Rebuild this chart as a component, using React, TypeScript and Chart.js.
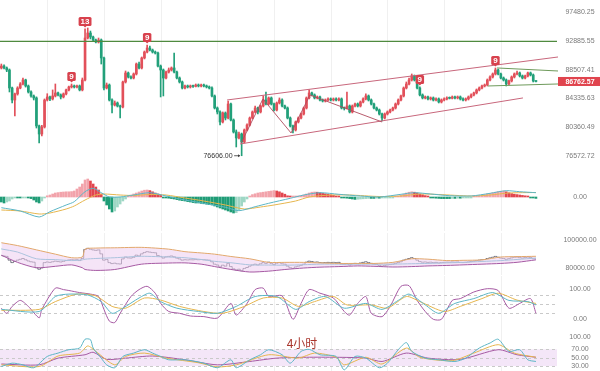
import React, { useEffect, useRef } from 'react';
import { Chart, registerables } from 'chart.js';

Chart.register(...registerables);

// ---------------- data ----------------
const PRICE_TICKS = [97480.25, 92885.55, 88507.41, 84335.63, 80360.49, 76572.72];
const LAST_PRICE = 86762.57;
const FIRST_OPEN = 88750;

const CLOSE = [
  89040, 88750, 88450, 85820, 84110, 84970, 85820, 86400, 86980, 86110,
  85250, 84680, 84400, 80530, 79450, 80390, 84110, 84540, 84260, 84680,
  85110, 84820, 84540, 84970, 85540, 85970, 86110, 85970, 86110, 85540,
  86980, 93320, 94110, 93480, 93010, 92700, 93010, 90250, 85820, 86250,
  84110, 83410, 83690, 83270, 83130, 86690, 88010, 87420, 87270, 87860,
  89340, 88750, 90250, 91160, 91770, 91460, 91160, 91000, 89040, 88450,
  87270, 88150, 88450, 88750, 88150, 87270, 86690, 85820, 86110, 85970,
  86110, 86050, 86250, 86110, 86250, 86110, 85970, 85820, 84680, 82990,
  82440, 81070, 82300, 81610, 83550, 81340, 79720, 78920, 79450, 78390,
  79990, 80660, 81610, 82440, 82990, 82440, 83270, 84110, 83550, 84400,
  83550, 82710, 83690, 84110, 83270, 82990, 81610, 80530, 79990, 81070,
  81610, 82160, 82990, 84400, 85110, 84820, 84400, 84540, 84110, 83970,
  84110, 84260, 84110, 84260, 84110, 84260, 82990, 82950, 83270, 82440,
  83270, 83550, 83270, 83830, 84260, 84680, 84110, 83550, 82990, 82710,
  82160, 81610, 82160, 82440, 82710, 82990, 83550, 84110, 84680, 85820,
  86400, 86980, 87570, 86980, 85820, 84820, 84400, 84540, 84260, 84400,
  84110, 84260, 83830, 84110, 84260, 84400, 84350, 84540, 84400, 84540,
  84260, 84110, 84260, 84540, 84820, 85110, 85540, 85820, 86110, 86250,
  86980, 87420, 87860, 88450, 87860, 87270, 86980, 86400, 86840, 87420,
  87860, 88010, 87570, 87270, 87570, 88010, 87710, 86840, 86762.57,
];

const HIGH = [
  89340, 89200, 88900, 88600, 85950, 85100, 86000, 86600, 87270, 87100,
  86250, 85400, 84820, 84550, 80660, 80600, 84260, 85000, 84680, 85540,
  86400, 85250, 84970, 85110, 85680, 86110, 86400, 86250, 86250, 86250,
  87270, 94750, 94900, 94420, 93640, 93170, 93320, 93170, 90400, 86540,
  86400, 84260, 83970, 83830, 83410, 86830, 88300, 88150, 87570, 88010,
  89490, 89640, 90400, 91310, 92230, 92080, 91610, 91310, 91160, 89190,
  88600, 88300, 88750, 88900, 91000, 88300, 87420, 86830, 86250, 86250,
  86250, 86250, 86400, 86400, 86400, 86400, 86250, 86110, 85970, 84820,
  83130, 82580, 82440, 82440, 83970, 83690, 81480, 79990, 79720, 79580,
  80120, 80800, 81750, 82580, 83270, 83130, 83410, 84680, 85250, 84540,
  84540, 83690, 83830, 84400, 84260, 83410, 83130, 81750, 80660, 81200,
  81750, 82300, 83130, 84540, 85540, 85250, 84970, 84680, 84680, 84260,
  84260, 84400, 84400, 84400, 84400, 84400, 84400, 83130, 85250, 83410,
  83410, 83690, 83690, 83970, 84400, 84970, 84820, 84260, 83690, 83130,
  82850, 82300, 82300, 82580, 82850, 83130, 83690, 84260, 84820, 85970,
  86690, 87270, 87860, 87710, 87130, 85970, 84970, 84680, 84680, 84540,
  84540, 84400, 84400, 84260, 84400, 84540, 84540, 84680, 84680, 84680,
  84680, 84400, 84400, 84680, 84970, 85250, 85680, 85970, 86250, 86400,
  87130, 87570, 88010, 88750, 88600, 88010, 87420, 87130, 86980, 87570,
  88010, 88300, 88150, 87710, 87710, 88150, 88150, 87860, 86840,
];

const LOW = [
  88600, 88600, 88200, 85250, 83700, 81900, 84800, 85700, 86250, 85950,
  85100, 84500, 84110, 80250, 78260, 79200, 80250, 83970, 84000, 84110,
  84540, 84680, 84260, 84400, 84820, 85400, 85820, 85820, 85820, 85400,
  85400, 86830, 93170, 93170, 92850, 92540, 92540, 89340, 85540, 85680,
  83970, 82300, 83270, 83130, 81610, 82990, 86540, 87270, 87130, 87130,
  87710, 88600, 88600, 90100, 91000, 91310, 91000, 90850, 88900, 84540,
  84680, 87130, 88000, 88300, 88000, 87130, 86540, 85680, 85680, 85820,
  85820, 85900, 85970, 85970, 85970, 85970, 85820, 85680, 84540, 82850,
  82160, 80660, 80930, 81340, 81480, 81200, 79580, 77740, 78790, 76606,
  78260, 79850, 80530, 81480, 82300, 82160, 82300, 83130, 83410, 83410,
  83410, 82580, 82580, 83550, 83130, 82850, 81480, 80390, 79580, 79850,
  80930, 81480, 82020, 82850, 84260, 84680, 84260, 84260, 83970, 83830,
  83830, 83970, 83970, 83970, 83970, 83970, 82850, 82710, 82850, 82300,
  82300, 83130, 83130, 83130, 83690, 84110, 83970, 83410, 82850, 82580,
  82020, 81200, 81480, 82020, 82300, 82580, 82850, 83410, 83970, 84540,
  85680, 86250, 86830, 86830, 85680, 84680, 84260, 84260, 84110, 84110,
  83970, 83970, 83690, 83690, 83970, 84110, 84260, 84260, 84260, 84260,
  84110, 83970, 83970, 84110, 84400, 84680, 84970, 85400, 85680, 85970,
  86110, 86830, 87270, 87710, 87710, 87130, 86830, 86110, 86250, 86690,
  87270, 87710, 87420, 87130, 87130, 87420, 87570, 86690, 86690,
];

// TD sequential markers (candle index, text)
const MARKER_IDX = [26, 31, 54, 155, 183];
const MARKER_TEXT = ['9', '13', '9', '9', '9'];

// drawn trend lines (candle index, price)
const RESISTANCE = 92800;
const CHANNEL_UP_X = [83.6, 206.2];
const CHANNEL_UP_Y = [84110, 90400];
const CHANNEL_LOW_X = [88.4, 193.2];
const CHANNEL_LOW_Y = [78130, 84400];
const ZIGZAG_X = [88.8, 96.9, 107.3, 114.3, 141];
const ZIGZAG_Y = [78260, 84260, 79585, 84820, 81070];
const PENNANT_UP_X = [183.6, 206.2];
const PENNANT_UP_Y = [88750, 88300];
const PENNANT_LOW_X = [180.2, 206.2];
const PENNANT_LOW_Y = [86110, 86400];

// MACD
const MACD_HIST = [
  -250, -300, -250, -200, -100, -50, -50, -50, -40, -30,
  -40, -80, -150, -250, -300, -200, -50, 60, 100, 150,
  200, 220, 240, 250, 260, 260, 270, 300, 400, 500,
  650, 850, 900, 800, 650, 500, 350, 150, -200, -400,
  -600, -750, -700, -500, -350, -200, -100, 50, 100, 150,
  200, 250, 300, 340, 350, 320, 260, 200, 150, 80,
  -30, -40, -60, -80, -100, -130, -160, -180, -200, -230,
  -250, -280, -300, -300, -320, -340, -360, -380, -400, -450,
  -500, -550, -600, -650, -700, -750, -800, -780, -650, -450,
  -250, -100, 50, 120, 160, 200, 220, 240, 260, 280,
  300, 320, 300, 260, 200, 140, 60, 40, 40, 40,
  50, 60, 100, 150, 200, 240, 250, 240, 210, 180,
  160, 140, 110, 80, 50, 20, -30, -50, -60, -80,
  -100, -120, -110, -100, -90, -80, -70, -70, -70, -60,
  -60, -50, -40, -30, -20, -10, 20, 50, 90, 140,
  200, 240, 260, 240, 200, 150, 110, 70, 40, -20,
  -40, -60, -70, -80, -80, -80, -80, -70, -70, -60,
  -60, -50, -40, -30, -10, 10, 30, 60, 90, 120,
  150, 180, 210, 240, 270, 290, 300, 260, 210, 170,
  140, 120, 100, 80, 60, 40, -20, -50, -70,
];
const DIF_X = [0, 7, 14, 18, 24, 27, 31, 34, 37, 40, 44, 49, 55, 61, 68, 75, 83, 88, 94, 99, 107, 112, 118, 125, 133, 140, 148, 153, 159, 166, 174, 181, 187, 192, 198];
const DIF_V = [-535, -700, -1000, -735, -400, -235, 265, 435, 215, 0, 0, 100, 215, 50, -150, -315, -515, -685, -485, -315, -65, 100, 215, 135, 50, 0, 135, 215, 150, 65, 50, 185, 315, 265, 215];
const DEA_X = [0, 7, 14, 18, 24, 27, 31, 35, 38, 44, 49, 55, 61, 68, 75, 83, 90, 96, 101, 109, 114, 122, 129, 140, 148, 155, 162, 174, 181, 188, 198];
const DEA_V = [-650, -700, -850, -800, -600, -450, -150, 100, 150, 100, 75, 125, 100, -50, -200, -400, -600, -500, -400, -200, 0, 100, 100, 25, 50, 150, 125, 50, 100, 200, 225];

// BOLL
const BOLL_X = [0, 6, 13, 20, 26, 30, 31, 35, 42, 52, 62, 68, 74, 79, 85, 92, 99, 105, 112, 118, 125, 132, 138, 145, 152, 158, 165, 171, 178, 185, 191, 198];
const BOLL_UP = [98060, 96060, 93050, 90040, 87530, 88030, 93550, 94300, 94500, 94800, 93550, 91790, 90900, 90040, 88400, 86780, 84270, 84270, 84270, 83900, 83520, 83520, 83520, 84270, 86780, 86500, 85520, 85700, 86020, 88030, 88300, 88530];
const BOLL_MID = [93700, 91500, 86780, 86200, 85520, 86000, 86500, 87000, 87530, 88530, 88000, 87530, 86300, 85000, 84000, 82510, 82380, 82260, 82600, 83020, 83020, 83020, 83020, 83020, 83300, 83520, 83900, 84270, 84900, 85520, 86300, 87280];
const BOLL_LOW = [89280, 84270, 80510, 81500, 82510, 80500, 79250, 78600, 79250, 83020, 83800, 83900, 83020, 81300, 79300, 77500, 78100, 79250, 80300, 80900, 81300, 81760, 81500, 81010, 81300, 81760, 82100, 82510, 83000, 83520, 84300, 86030];
const BOLL_TICKS = [100000, 80000];

// KDJ
const K_X = [0, 14, 20, 25, 32, 37, 41, 45, 51, 55, 59, 65, 73, 80, 87, 94, 102, 109, 114, 120, 127, 135, 141, 147, 151, 157, 162, 168, 175, 182, 188, 195, 198];
const K_V = [33, 26, 76, 84, 81, 59, 20, 37, 71, 87, 59, 37, 26, 20, 43, 76, 76, 33, 59, 76, 37, 53, 33, 63, 84, 48, 20, 53, 69, 89, 63, 59, 48];
const D_X = [0, 14, 20, 28, 35, 41, 46, 53, 59, 66, 75, 82, 90, 97, 104, 110, 116, 123, 128, 137, 143, 150, 155, 164, 170, 178, 184, 191, 198];
const D_V = [30, 33, 59, 84, 78, 43, 37, 71, 64, 43, 26, 20, 43, 71, 71, 43, 59, 76, 48, 48, 37, 76, 59, 26, 43, 69, 87, 64, 53];
const J_X = [0, 2, 4, 7, 10, 14, 15, 20, 23, 25, 29, 33, 36, 38, 40, 42, 44, 48, 51, 54, 57, 59, 62, 66, 70, 75, 80, 85, 87, 91, 94, 97, 99, 104, 108, 111, 114, 118, 123, 127, 129, 132, 135, 137, 141, 144, 148, 151, 154, 157, 160, 163, 167, 170, 175, 180, 184, 188, 192, 196, 198];
const J_V = [37, 20, 43, 63, 43, 5, 33, 104, 99, 96, 89, 84, 76, 33, -6, -11, 20, 76, 99, 110, 87, 53, 26, 20, 11, 9, 4, 53, 14, 53, 99, 104, 76, 78, 0, 53, 99, 87, 71, 26, 14, 53, 76, 20, 9, 43, 110, 112, 63, 26, 0, 0, 63, 69, 91, 102, 96, 37, 53, 69, 20];
const KDJ_LEVELS = [80, 50, 20];
const KDJ_TICKS = [100, 0];

// RSI
const R1_X = [0, 4, 8, 12, 17, 21, 25, 29, 31, 33, 34, 37, 39, 42, 45, 49, 53, 56, 59, 62, 68, 75, 80, 85, 87, 92, 96, 99, 104, 107, 111, 114, 118, 124, 127, 131, 135, 140, 143, 147, 150, 152, 157, 162, 168, 172, 177, 181, 184, 188, 192, 195, 198];
const R1_V = [29, 37, 33, 26, 53, 61, 69, 73, 94, 93, 73, 49, 33, 26, 53, 61, 69, 61, 53, 45, 45, 37, 26, 45, 26, 45, 57, 69, 57, 37, 65, 70, 57, 53, 21, 53, 49, 26, 37, 69, 86, 65, 49, 45, 41, 49, 73, 85, 94, 65, 69, 45, 41];
const R2_X = [0, 14, 21, 29, 32, 35, 42, 46, 53, 61, 73, 80, 87, 99, 110, 116, 124, 127, 135, 141, 150, 155, 167, 175, 184, 190, 198];
const R2_V = [33, 29, 54, 61, 78, 65, 33, 53, 61, 49, 38, 28, 33, 57, 49, 61, 51, 33, 51, 35, 73, 51, 43, 61, 81, 61, 51];
const R3_X = [0, 14, 21, 31, 34, 39, 46, 56, 68, 80, 92, 102, 113, 124, 135, 141, 150, 158, 170, 184, 191, 198];
const R3_V = [35, 33, 49, 57, 63, 46, 49, 54, 45, 33, 41, 49, 51, 51, 49, 41, 61, 49, 46, 69, 57, 51];
const RSI_LEVELS = [70, 50, 30];
const RSI_TICKS = [100, 70, 50, 30];
const PERIOD_LABEL = '4小时';

const GRID_IDX = [17, 38, 59, 80, 101, 122, 143, 164, 185];

// ---------------- style ----------------
const X_MIN = -0.5;
const X_MAX = 205.8;
const AXIS_W = 43;
const LABEL_X = 580;
const FONT = '"Liberation Sans", Arial, sans-serif';
const UP = '#e2505a';
const DOWN = '#22a07a';
const TEAL = '#5cb6c6';
const YELLOW = '#e6b64e';
const PURPLE = '#a65aa3';

const pts = (xs: number[], ys: number[]) => xs.map((x, i) => ({ x, y: ys[i] }));

const xAxis = () => ({ type: 'linear', min: X_MIN, max: X_MAX, display: false, offset: false, bounds: 'data' });
const yAxis = (extra: any) => ({
  position: 'right',
  afterFit: (s: any) => { s.width = AXIS_W; },
  ticks: { display: false },
  grid: { display: false },
  border: { display: false },
  bounds: 'data',
  ...extra,
});
const baseOptions = (yExtra: any) => ({
  responsive: false,
  animation: false,
  devicePixelRatio: 1,
  events: [],
  layout: { padding: 0 },
  plugins: { legend: { display: false }, tooltip: { enabled: false } },
  scales: { x: xAxis(), y: yAxis(yExtra) },
});

const line = (data: any[], color: string, extra: any = {}) => ({
  type: 'line',
  data,
  borderColor: color,
  borderWidth: 1,
  pointRadius: 0,
  tension: 0.25,
  fill: false,
  order: 0,
  ...extra,
});

const vgrid = {
  id: 'vgrid',
  beforeDatasetsDraw(chart: any) {
    const { ctx, chartArea: a, scales } = chart;
    ctx.save();
    ctx.strokeStyle = '#f0f0f0';
    ctx.lineWidth = 1;
    GRID_IDX.forEach((v) => {
      const px = Math.round(scales.x.getPixelForValue(v)) + 0.5;
      ctx.beginPath();
      ctx.moveTo(px, a.top);
      ctx.lineTo(px, a.bottom);
      ctx.stroke();
    });
    ctx.restore();
  },
};

const rightLabels = (values: number[]) => ({
  id: 'rightLabels',
  afterDraw(chart: any) {
    const { ctx, scales } = chart;
    ctx.save();
    ctx.font = `7px ${FONT}`;
    ctx.fillStyle = '#7a7a7a';
    ctx.textAlign = 'center';
    ctx.textBaseline = 'middle';
    values.forEach((v) => ctx.fillText(v.toFixed(2), LABEL_X, scales.y.getPixelForValue(v)));
    ctx.restore();
  },
});

const dashedLevels = (levels: number[], band?: [number, number], bandColor?: string) => ({
  id: 'dashedLevels',
  beforeDatasetsDraw(chart: any) {
    const { ctx, chartArea: a, scales } = chart;
    ctx.save();
    if (band) {
      const y1 = scales.y.getPixelForValue(band[0]);
      const y2 = scales.y.getPixelForValue(band[1]);
      ctx.fillStyle = bandColor;
      ctx.fillRect(a.left, y1, a.right - a.left, y2 - y1);
    }
    ctx.strokeStyle = '#c9c9c9';
    ctx.lineWidth = 1;
    ctx.setLineDash([3, 3]);
    levels.forEach((v) => {
      const py = Math.round(scales.y.getPixelForValue(v)) + 0.5;
      ctx.beginPath();
      ctx.moveTo(a.left, py);
      ctx.lineTo(a.right, py);
      ctx.stroke();
    });
    ctx.restore();
  },
});

function poly(ctx: any, xs: number[], ys: number[], xs_: any, ys_: any, color: string, w: number) {
  ctx.beginPath();
  xs.forEach((v, i) => {
    const px = xs_.getPixelForValue(v);
    const py = ys_.getPixelForValue(ys[i]);
    if (i === 0) ctx.moveTo(px, py);
    else ctx.lineTo(px, py);
  });
  ctx.strokeStyle = color;
  ctx.lineWidth = w;
  ctx.stroke();
}

const mainOverlay = {
  id: 'mainOverlay',
  afterDatasetsDraw(chart: any) {
    const { ctx, chartArea: a, scales: { x, y } } = chart;
    ctx.save();
    ctx.beginPath();
    ctx.rect(a.left, a.top, a.right - a.left + 1, a.bottom - a.top);
    ctx.clip();
    poly(ctx, [X_MIN, X_MAX], [RESISTANCE, RESISTANCE], x, y, '#4f8a3f', 1.2);
    poly(ctx, CHANNEL_UP_X, CHANNEL_UP_Y, x, y, '#c8677c', 1);
    poly(ctx, CHANNEL_LOW_X, CHANNEL_LOW_Y, x, y, '#c8677c', 1);
    poly(ctx, ZIGZAG_X, ZIGZAG_Y, x, y, '#b04a5c', 0.9);
    poly(ctx, PENNANT_UP_X, PENNANT_UP_Y, x, y, '#6e9a5b', 1);
    poly(ctx, PENNANT_LOW_X, PENNANT_LOW_Y, x, y, '#6e9a5b', 1);
    ctx.restore();

    // TD markers
    ctx.save();
    ctx.font = `bold 8px ${FONT}`;
    ctx.textAlign = 'center';
    ctx.textBaseline = 'middle';
    MARKER_IDX.forEach((idx, k) => {
      const t = MARKER_TEXT[k];
      const px = x.getPixelForValue(idx);
      const py = y.getPixelForValue(HIGH[idx]) - 3;
      const w = ctx.measureText(t).width + 4;
      const h = 9;
      ctx.fillStyle = '#d8414d';
      ctx.beginPath();
      ctx.roundRect(px - w / 2, py - h, w, h, 1.5);
      ctx.fill();
      ctx.beginPath();
      ctx.moveTo(px - 1.5, py);
      ctx.lineTo(px + 1.5, py);
      ctx.lineTo(px, py + 1.5);
      ctx.fill();
      ctx.fillStyle = '#ffffff';
      ctx.fillText(t, px, py - h / 2 + 0.5);
    });
    ctx.restore();

    // lowest low label
    let li = 0;
    LOW.forEach((v, i) => { if (v < LOW[li]) li = i; });
    const lx = x.getPixelForValue(li);
    const ly = y.getPixelForValue(LOW[li]);
    ctx.save();
    ctx.font = `7px ${FONT}`;
    ctx.fillStyle = '#333';
    ctx.strokeStyle = '#333';
    ctx.textAlign = 'right';
    ctx.textBaseline = 'middle';
    ctx.fillText(LOW[li].toFixed(2), lx - 9, ly);
    ctx.lineWidth = 0.8;
    ctx.beginPath();
    ctx.moveTo(lx - 7.5, ly);
    ctx.lineTo(lx - 2, ly);
    ctx.stroke();
    ctx.beginPath();
    ctx.moveTo(lx - 1.5, ly);
    ctx.lineTo(lx - 3.5, ly - 1.5);
    ctx.lineTo(lx - 3.5, ly + 1.5);
    ctx.fill();
    ctx.restore();
  },
  afterDraw(chart: any) {
    const { ctx, scales: { y } } = chart;
    const py = y.getPixelForValue(LAST_PRICE);
    ctx.save();
    ctx.fillStyle = '#e0444e';
    ctx.fillRect(558, py - 4.5, 42, 9);
    ctx.font = `bold 7px ${FONT}`;
    ctx.fillStyle = '#ffffff';
    ctx.textAlign = 'center';
    ctx.textBaseline = 'middle';
    ctx.fillText(LAST_PRICE.toFixed(2), LABEL_X, py + 0.3);
    ctx.restore();
  },
};

const periodLabel = {
  id: 'periodLabel',
  afterDraw(chart: any) {
    const { ctx } = chart;
    ctx.save();
    ctx.font = '12px "Noto Sans CJK SC", sans-serif';
    ctx.fillStyle = '#a9362d';
    ctx.textAlign = 'center';
    ctx.textBaseline = 'middle';
    ctx.fillText(PERIOD_LABEL, 302, 13);
    ctx.restore();
  },
};

// ---------------- chart builders ----------------
const OPEN = CLOSE.map((c, i) => (i === 0 ? FIRST_OPEN : CLOSE[i - 1]));
const CANDLE_COLORS = CLOSE.map((c, i) => (c >= OPEN[i] ? UP : DOWN));
const HIST_COLORS = MACD_HIST.map((v, i) => {
  const prev = i ? MACD_HIST[i - 1] : 0;
  if (v >= 0) return v >= prev ? '#f2a3ab' : '#e2464f';
  return v <= prev ? '#1f9c76' : '#9fd7c5';
});

const buildMain = () => ({
  type: 'bar',
  data: {
    datasets: [
      { data: CLOSE.map((_, i) => ({ x: i, y: [LOW[i], HIGH[i]] })), backgroundColor: CANDLE_COLORS, barThickness: 1, grouped: false, order: 2 },
      { data: CLOSE.map((c, i) => ({ x: i, y: [OPEN[i], c] })), backgroundColor: CANDLE_COLORS, barThickness: 2, minBarLength: 1, grouped: false, order: 1 },
    ],
  },
  options: baseOptions({ type: 'logarithmic', min: 75679, max: 99461 }),
  plugins: [vgrid, mainOverlay, rightLabels(PRICE_TICKS)],
});

const buildMacd = () => ({
  type: 'bar',
  data: {
    datasets: [
      line(pts(DIF_X, DIF_V), TEAL),
      line(pts(DEA_X, DEA_V), YELLOW),
      { data: MACD_HIST.map((v, i) => ({ x: i, y: v })), backgroundColor: HIST_COLORS, barThickness: 2, minBarLength: 1, grouped: false, order: 3 },
    ],
  },
  options: baseOptions({ type: 'linear', min: -1700, max: 1700 }),
  plugins: [vgrid, rightLabels([0])],
});

const buildBoll = () => ({
  type: 'line',
  data: {
    datasets: [
      line(pts(BOLL_X, BOLL_LOW), PURPLE),
      line(pts(BOLL_X, BOLL_UP), '#e2a86c', { fill: '-1', backgroundColor: 'rgba(236, 206, 240, 0.55)' }),
      line(pts(BOLL_X, BOLL_MID), TEAL),
      line(CLOSE.map((c, i) => ({ x: i, y: c })), '#575766', { stepped: 'middle', tension: 0, borderWidth: 0.8 }),
    ],
  },
  options: baseOptions({ type: 'linear', min: 75395, max: 104890 }),
  plugins: [vgrid, rightLabels(BOLL_TICKS)],
});

const buildKdj = () => ({
  type: 'line',
  data: {
    datasets: [
      line(pts(K_X, K_V), TEAL),
      line(pts(D_X, D_V), YELLOW),
      line(pts(J_X, J_V), PURPLE),
    ],
  },
  options: baseOptions({ type: 'linear', min: -35.67, max: 144.33 }),
  plugins: [vgrid, dashedLevels(KDJ_LEVELS), rightLabels(KDJ_TICKS)],
});

const buildRsi = () => ({
  type: 'line',
  data: {
    datasets: [
      line(pts(R1_X, R1_V), TEAL),
      line(pts(R2_X, R2_V), YELLOW),
      line(pts(R3_X, R3_V), PURPLE),
    ],
  },
  options: baseOptions({ type: 'linear', min: 18.33, max: 115.95 }),
  plugins: [vgrid, dashedLevels(RSI_LEVELS, [70, 30], '#f4e6f8'), rightLabels(RSI_TICKS), periodLabel],
});

function Panel({ top, height, build }: { top: number; height: number; build: () => any }) {
  const ref = useRef<HTMLCanvasElement | null>(null);
  useEffect(() => {
    const chart = new Chart(ref.current as HTMLCanvasElement, build());
    return () => chart.destroy();
  }, []);
  return (
    <canvas
      ref={ref}
      width={600}
      height={height}
      style={{ position: 'absolute', left: 0, top, width: 600, height, display: 'block' }}
    />
  );
}

export default function App() {
  return (
    <div style={{ position: 'fixed', left: 0, top: 0, width: 600, height: 371, background: '#ffffff', overflow: 'hidden' }}>
      <Panel top={0} height={163} build={buildMain} />
      <Panel top={163} height={68} build={buildMacd} />
      <Panel top={233} height={42} build={buildBoll} />
      <Panel top={276} height={54} build={buildKdj} />
      <Panel top={330} height={41} build={buildRsi} />
    </div>
  );
}
